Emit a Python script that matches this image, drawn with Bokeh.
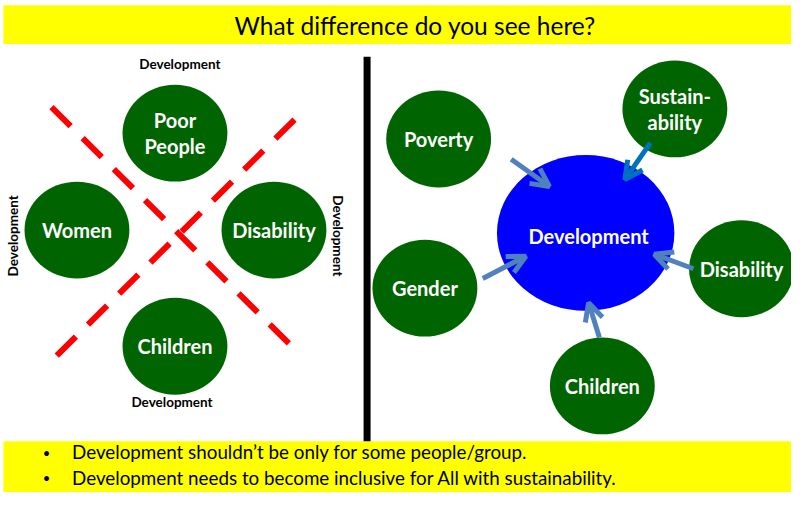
from bokeh.plotting import figure
from bokeh.models import Range1d, Arrow, OpenHead
from bokeh.core.properties import value
from bokeh.embed import file_html
from bokeh.resources import INLINE

# ---- data (reference pixel space, y downward) ----
title_text = "What difference do you see here?"
bullets = ["Development shouldn\u2019t be only for some people/group.",
           "Development needs to become inclusive for All with sustainability."]

left_labels = ["Poor\nPeople", "Women", "Disability", "Children"]
left_x = [178, 78, 279, 178]
left_y = [137, 237, 237, 357]

dev_labels_x = [183, 13, 344, 175]
dev_labels_y = [66, 243, 243, 415]
dev_labels_angle = [0, 1.5708, -1.5708, 0]

red_x0 = [52, 300]
red_y0 = [110, 123]
red_x1 = [302, 50]
red_y1 = [362, 374]

center_label = "Development"
center_x, center_y = 597, 240

right_labels = ["Poverty", "Sustain-\nability", "Gender", "Disability", "Children"]
right_x = [447, 688, 433, 756, 614]
right_y = [143, 112, 297, 277, 398]

arrow_x0 = [521, 663, 492, 707, 611]
arrow_y0 = [164, 147, 287, 277, 348]
arrow_x1 = [560, 637, 536, 667, 600]
arrow_y1 = [192, 185, 264, 262, 312]
arrow_colors = ["#4F81BD", "#0070C0", "#4F81BD", "#4F81BD", "#4F81BD"]

W, H = 791, 492
p = figure(width=W, height=H, x_range=Range1d(0, 807), y_range=Range1d(508, 0),
           output_backend="svg", toolbar_location=None, min_border=0)
p.axis.visible = False
p.grid.visible = False
p.outline_line_color = None
p.background_fill_color = "white"

# banners
p.quad(left=[3], right=[807], top=[5], bottom=[45], fill_color="#FFFF00", line_color=None)
p.quad(left=[3], right=[807], top=[455], bottom=[508], fill_color="#FFFF00", line_color=None)
p.text(x=[423], y=[26], text=[title_text], text_font=value("Lato"), text_font_size="24.5px",
       text_color="black", text_align="center", text_baseline="middle")
p.text(x=[47, 47], y=[467, 493], text=["\u2022", "\u2022"], text_font=value("Lato"),
       text_font_size="13px", text_color="black", text_align="center", text_baseline="middle")
p.text(x=[73, 73], y=[466, 492], text=bullets, text_font=value("Lato"),
       text_font_size="18.8px", text_color="black", text_align="left", text_baseline="middle")

# divider
p.segment(x0=[374], y0=[58], x1=[374], y1=[455], line_color="black", line_width=7)

# left panel
p.segment(x0=red_x0, y0=red_y0, x1=red_x1, y1=red_y1, line_color="#FF0000",
          line_width=6, line_dash="27 17", line_cap="butt")
p.ellipse(x=left_x, y=left_y, width=107, height=100, fill_color="#006400", line_color=None)
p.text(x=left_x, y=left_y, text=left_labels, text_font=value("Lato"), text_font_style="bold",
       text_font_size="20px", text_color="white", text_align="center", text_baseline="middle",
       text_line_height=1.1)
p.text(x=dev_labels_x, y=dev_labels_y, text=["Development"] * 4, angle=dev_labels_angle,
       text_font=value("Lato"), text_font_style="bold", text_font_size="13.5px",
       text_color="black", text_align="center", text_baseline="middle")

# right panel
p.ellipse(x=[center_x], y=[center_y], width=181, height=161, fill_color="#0000FF", line_color=None)
p.text(x=[center_x + 3], y=[center_y + 3], text=[center_label], text_font=value("Lato"),
       text_font_style="bold", text_font_size="20px", text_color="white",
       text_align="center", text_baseline="middle")
p.ellipse(x=right_x, y=right_y, width=107, height=100, fill_color="#006400", line_color=None)
p.text(x=right_x, y=right_y, text=right_labels, text_font=value("Lato"), text_font_style="bold",
       text_font_size="20px", text_color="white", text_align="center", text_baseline="middle",
       text_line_height=1.1)

for xs, ys, xe, ye, c in zip(arrow_x0, arrow_y0, arrow_x1, arrow_y1, arrow_colors):
    p.add_layout(Arrow(x_start=xs, y_start=ys, x_end=xe, y_end=ye, line_color=c, line_width=5,
                       end=OpenHead(size=18, line_width=5, line_color=c)))

open("out.html", "w").write(file_html(p, INLINE))
